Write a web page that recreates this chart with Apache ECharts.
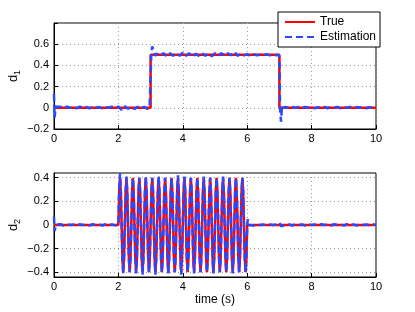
<!DOCTYPE html>
<html><head><meta charset="utf-8">
<script src="https://cdn.jsdelivr.net/npm/echarts@6/dist/echarts.min.js"></script>
<style>html,body{margin:0;padding:0;background:#fff}#c{width:415px;height:312px}</style>
</head><body><div id="c"></div><script>
// ---------- data ----------
const xTickLabels = ['0','2','4','6','8','10'];
const y1Ticks = [-0.2, 0, 0.2, 0.4, 0.6];
const y2Ticks = [-0.4, -0.2, 0, 0.2, 0.4];
const seriesNames = ['True', 'Estimation'];

// d1 true (step input)
const true1 = [[0,0],[3,0],[3,0.5],[7,0.5],[7,0],[10,0]];
// d1 estimation
const est1 = [[0,0.13],[0.02,-0.09],[0.05,0.01],[0.1,0.0],[0.2,0.01],[0.3,-0.005],[0.4,0.01],[0.5,0],[0.6,0.008],[0.7,-0.005],[0.8,0.01],[0.9,0],[1.0,0.008],[1.1,-0.006],[1.2,0.01],[1.3,0],[1.4,0.007],[1.5,-0.005],[1.6,0.008],[1.7,0],[1.8,0.01],[1.9,-0.004],[2.0,0.01],[2.1,-0.02],[2.2,0.015],[2.3,-0.01],[2.4,0.012],[2.5,-0.012],[2.6,0.01],[2.7,-0.008],[2.8,0.01],[2.9,-0.01],[2.97,0.005],[3.0,0.0],[3.02,0.5],[3.05,0.58],[3.1,0.53],[3.15,0.49],[3.2,0.51],[3.3,0.49],[3.4,0.515],[3.5,0.485],[3.6,0.515],[3.7,0.49],[3.8,0.515],[3.9,0.49],[4.0,0.52],[4.1,0.49],[4.2,0.515],[4.3,0.48],[4.4,0.51],[4.5,0.49],[4.6,0.515],[4.7,0.49],[4.8,0.515],[4.9,0.485],[5.0,0.515],[5.1,0.49],[5.2,0.515],[5.3,0.49],[5.4,0.515],[5.5,0.495],[5.6,0.53],[5.7,0.49],[5.8,0.51],[5.9,0.495],[6.0,0.505],[6.1,0.49],[6.2,0.505],[6.3,0.495],[6.4,0.5],[6.5,0.495],[6.6,0.505],[6.7,0.495],[6.8,0.505],[6.9,0.495],[6.97,0.5],[7.0,0.48],[7.02,0.0],[7.05,-0.13],[7.08,0.02],[7.12,0.0],[7.2,0.008],[7.3,-0.004],[7.4,0.008],[7.5,0],[7.6,0.007],[7.7,-0.005],[7.8,0.008],[7.9,0],[8.0,0.008],[8.1,-0.005],[8.2,0.006],[8.3,0],[8.4,0.008],[8.5,-0.004],[8.6,0.007],[8.7,0],[8.8,0.008],[8.9,-0.005],[9.0,0.006],[9.1,0],[9.2,0.008],[9.3,-0.004],[9.4,0.007],[9.5,0],[9.6,0.008],[9.7,-0.004],[9.8,0.006],[9.9,0],[10,0.004]];

// d2: flat parts and the 5 Hz burst between 2 s and 6 s
const oscStart = 2, oscStep = 0.025;
const true2Pre = [[0,0],[2,0]];
const true2Osc = [0,0.28,0.4,0.28,0,-0.28,-0.4,-0.28, 0,0.28,0.4,0.28,0,-0.28,-0.4,-0.28, 0,0.28,0.4,0.28,0,-0.28,-0.4,-0.28, 0,0.28,0.4,0.28,0,-0.28,-0.4,-0.28, 0,0.28,0.4,0.28,0,-0.28,-0.4,-0.28,
 0,0.28,0.4,0.28,0,-0.28,-0.4,-0.28, 0,0.28,0.4,0.28,0,-0.28,-0.4,-0.28, 0,0.28,0.4,0.28,0,-0.28,-0.4,-0.28, 0,0.28,0.4,0.28,0,-0.28,-0.4,-0.28, 0,0.28,0.4,0.28,0,-0.28,-0.4,-0.28,
 0,0.28,0.4,0.28,0,-0.28,-0.4,-0.28, 0,0.28,0.4,0.28,0,-0.28,-0.4,-0.28, 0,0.28,0.4,0.28,0,-0.28,-0.4,-0.28, 0,0.28,0.4,0.28,0,-0.28,-0.4,-0.28, 0,0.28,0.4,0.28,0,-0.28,-0.4,-0.28,
 0,0.28,0.4,0.28,0,-0.28,-0.4,-0.28, 0,0.28,0.4,0.28,0,-0.28,-0.4,-0.28, 0,0.28,0.4,0.28,0,-0.28,-0.4,-0.28, 0,0.28,0.4,0.28,0,-0.28,-0.4,-0.28, 0,0.28,0.4,0.28,0,-0.28,-0.4,-0.28, 0];
const true2Post = [[6,0],[10,0]];

const est2Pre = [[0,0.07],[0.02,-0.05],[0.06,0.005],[0.1,0],[0.2,0.006],[0.3,-0.004],[0.4,0.006],[0.5,0],[0.6,0.005],[0.7,-0.006],[0.8,0.006],[0.9,0],[1.0,0.005],[1.1,-0.004],[1.2,0.006],[1.3,0],[1.4,0.005],[1.5,-0.004],[1.6,0.006],[1.7,0],[1.8,0.005],[1.9,-0.003],[2.0,0]];
const est2Osc = [0,0.33,0.44,0.3,0,-0.29,-0.41,-0.28, 0,0.29,0.41,0.28,0,-0.28,-0.4,-0.29, 0,0.28,0.4,0.28,0,-0.29,-0.41,-0.28, 0,0.28,0.4,0.28,0,-0.3,-0.42,-0.29, 0,0.28,0.41,0.28,0,-0.28,-0.4,-0.28,
 0,0.28,0.4,0.29,0,-0.3,-0.42,-0.28, 0,0.29,0.41,0.28,0,-0.28,-0.4,-0.28, 0,0.28,0.4,0.28,0,-0.28,-0.41,-0.28, 0,0.28,0.4,0.28,0,-0.28,-0.4,-0.28, 0,0.29,0.42,0.28,0,-0.3,-0.42,-0.29,
 0,0.28,0.41,0.28,0,-0.28,-0.4,-0.28, 0,0.28,0.4,0.28,0,-0.28,-0.41,-0.28, 0,0.28,0.4,0.28,0,-0.28,-0.4,-0.28, 0,0.28,0.41,0.28,0,-0.28,-0.4,-0.28, 0,0.28,0.4,0.28,0,-0.28,-0.41,-0.28,
 0,0.28,0.4,0.28,0,-0.28,-0.4,-0.28, 0,0.28,0.41,0.28,0,-0.28,-0.4,-0.28, 0,0.28,0.4,0.28,0,-0.28,-0.41,-0.28, 0,0.28,0.4,0.28,0,-0.28,-0.4,-0.28, 0,0.28,0.4,0.28,0,-0.28,-0.4,-0.28, 0];
const est2Post = [[6.02,0.05],[6.05,0.0],[6.1,0.005],[6.2,-0.004],[6.3,0.006],[6.4,0],[6.5,0.005],[6.6,-0.004],[6.7,0.005],[6.8,0],[6.9,0.005],[7.0,0.02],[7.05,-0.01],[7.1,0.004],[7.2,0],[7.3,0.005],[7.4,-0.004],[7.5,0.006],[7.6,0],[7.7,0.005],[7.8,-0.004],[7.9,0.006],[8.0,0],[8.1,0.005],[8.2,-0.004],[8.3,0.006],[8.4,0],[8.5,0.005],[8.6,-0.004],[8.7,0.006],[8.8,0],[8.9,0.005],[9.0,-0.004],[9.1,0.006],[9.2,0],[9.3,0.005],[9.4,-0.004],[9.5,0.007],[9.6,0],[9.7,0.005],[9.8,-0.004],[9.9,0.006],[10,0]];

// ---------- build ----------
const oscPairs = vals => vals.map((v, i) => [oscStart + i * oscStep, v]);
const true2 = true2Pre.concat(oscPairs(true2Osc), true2Post);
const est2 = est2Pre.concat(oscPairs(est2Osc), est2Post);

const FONT = 'Liberation Sans';
const fmt = v => {
  const s = String(Math.round(v * 10) / 10);
  return s.replace('-', '\u2212');
};
const splitLine = {show: true, lineStyle: {color: '#9a9a9a', type: [1, 3], width: 1}};
const tick = {show: true, inside: true, length: 4, lineStyle: {color: '#000'}};
const axisLine = {show: true, onZero: false, lineStyle: {color: '#000', width: 1}};
const xLabel = {color: '#000', fontSize: 11, fontFamily: FONT, margin: 4,
  formatter: v => xTickLabels.includes(String(v)) ? String(v) : ''};
const nameRich = {
  a: {fontSize: 13, fontFamily: FONT, color: '#000', lineHeight: 18},
  b: {fontSize: 9, fontFamily: FONT, color: '#000', lineHeight: 9, verticalAlign: 'bottom'}
};

const red = '#ff0000', blue = '#2a48ff';
const mkTrue = (data, i) => ({name: seriesNames[0], type: 'line', data, xAxisIndex: i, yAxisIndex: i,
  symbol: 'none', lineStyle: {color: red, width: 2.5}, itemStyle: {color: red}, z: 2, silent: true});
const mkEst = (data, i) => ({name: seriesNames[1], type: 'line', data, xAxisIndex: i, yAxisIndex: i,
  symbol: 'none', lineStyle: {color: blue, width: 2.5, type: [7, 4]}, itemStyle: {color: blue}, z: 3, silent: true});

const gridBase = {left: 54, width: 322, show: true, borderColor: '#000', borderWidth: 1,
  containLabel: false, outerBoundsMode: 'none'};

const chart = echarts.init(document.getElementById('c'), null, {renderer: 'canvas'});
chart.setOption({
  animation: false,
  backgroundColor: '#fff',
  textStyle: {fontFamily: FONT},
  grid: [
    Object.assign({}, gridBase, {top: 23, height: 106}),
    Object.assign({}, gridBase, {top: 173, height: 104})
  ],
  legend: {
    data: seriesNames, orient: 'vertical', left: 278, top: 12,
    itemWidth: 30, itemHeight: 12, itemGap: 3, padding: [4, 4, 4, 6],
    borderColor: '#000', borderWidth: 1, backgroundColor: '#fff',
    itemStyle: {opacity: 0},
    textStyle: {fontSize: 12, color: '#000', fontFamily: FONT}
  },
  xAxis: [
    {type: 'value', gridIndex: 0, min: 0, max: 10, interval: 2, axisLine, axisTick: tick, splitLine, axisLabel: xLabel},
    {type: 'value', gridIndex: 1, min: 0, max: 10, interval: 2, axisLine, axisTick: tick, splitLine, axisLabel: xLabel,
      name: 'time (s)', nameLocation: 'middle', nameGap: 17,
      nameTextStyle: {fontSize: 12, color: '#000', fontFamily: FONT}}
  ],
  yAxis: [
    {type: 'value', gridIndex: 0, min: -0.2, max: 0.8, interval: 0.2, axisLine, axisTick: tick, splitLine,
      axisLabel: {color: '#000', fontSize: 11, fontFamily: FONT, margin: 5,
        formatter: v => y1Ticks.some(t => Math.abs(t - v) < 1e-6) ? fmt(v) : ''},
      name: '{a|d}{b|1}', nameLocation: 'middle', nameGap: 32, nameRotate: 90, nameMoveOverlap: false,
      nameTextStyle: {rich: nameRich}},
    {type: 'value', gridIndex: 1, min: -0.44, max: 0.44, axisLine, splitLine,
      axisTick: Object.assign({}, tick, {customValues: y2Ticks}),
      axisLabel: {color: '#000', fontSize: 11, fontFamily: FONT, margin: 5, customValues: y2Ticks, formatter: fmt},
      name: '{a|d}{b|2}', nameLocation: 'middle', nameGap: 32, nameRotate: 90, nameMoveOverlap: false,
      nameTextStyle: {rich: nameRich}}
  ],
  series: [mkTrue(true1, 0), mkEst(est1, 0), mkTrue(true2, 1), mkEst(est2, 1)]
});
</script></body></html>
